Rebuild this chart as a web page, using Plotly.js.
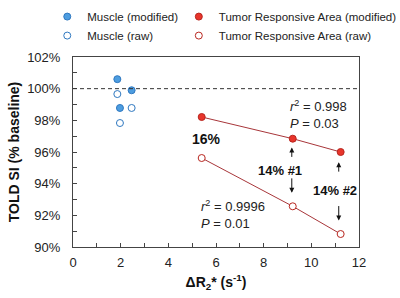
<!DOCTYPE html>
<html>
<head>
<meta charset="utf-8">
<script src="https://cdn.plot.ly/plotly-3.0.1.min.js"></script>
<style>html,body{margin:0;padding:0;background:#fff;}#chart{width:400px;height:298px;}</style>
</head>
<body>
<div id="chart"></div>
<script>
// Data
var muscleX = [1.86, 2.46, 1.97];
var muscleModified = [100.6, 99.9, 98.78];
var muscleRaw = [99.66, 98.78, 97.83];

var tumorX = [5.40, 9.22, 11.23];
var tumorModified = [98.21, 96.84, 96.0];
var tumorRaw = [95.62, 92.57, 90.82];

var seriesNames = ['Muscle (modified)', 'Muscle (raw)', 'Tumor Responsive Area (modified)', 'Tumor Responsive Area (raw)'];
var yTickVals = [90, 92, 94, 96, 98, 100, 102];
var yTickText = ['90%', '92%', '94%', '96%', '98%', '100%', '102%'];
var xTickVals = [0, 2, 4, 6, 8, 10, 12];

var FONT = 'Liberation Sans, Arial, sans-serif';
var BLUE_FILL = '#4d9de0', BLUE_EDGE = '#2f78c0';
var RED_FILL = '#e8352b', RED_EDGE = '#b8261f', LINE_RED = '#a8363a';

var traces = [
  {x: tumorX, y: tumorModified, mode: 'lines', showlegend: false, hoverinfo: 'skip',
   line: {color: LINE_RED, width: 1}},
  {x: tumorX, y: tumorRaw, mode: 'lines', showlegend: false, hoverinfo: 'skip',
   line: {color: LINE_RED, width: 1}},
  {x: muscleX, y: muscleModified, name: seriesNames[0], mode: 'markers', legend: 'legend',
   marker: {size: 7, color: BLUE_FILL, line: {color: BLUE_EDGE, width: 1}}},
  {x: muscleX, y: muscleRaw, name: seriesNames[1], mode: 'markers', legend: 'legend',
   marker: {size: 7, color: '#ffffff', line: {color: BLUE_EDGE, width: 1}}},
  {x: tumorX, y: tumorModified, name: seriesNames[2], mode: 'markers', legend: 'legend2',
   marker: {size: 7, color: RED_FILL, line: {color: RED_EDGE, width: 1}}},
  {x: tumorX, y: tumorRaw, name: seriesNames[3], mode: 'markers', legend: 'legend2',
   marker: {size: 7, color: '#ffffff', line: {color: RED_EDGE, width: 1}}}
];

var annFont = {family: FONT, size: 13, color: '#222'};
var boldFont = {family: FONT, size: 13, color: '#111', weight: 'bold'};

var layout = {
  width: 400, height: 298,
  margin: {l: 73, r: 41, t: 57, b: 51, autoexpand: false},
  paper_bgcolor: '#ffffff', plot_bgcolor: '#ffffff',
  font: {family: FONT, size: 13, color: '#222'},
  showlegend: true,
  legend: {x: -0.09, y: 1.289, xanchor: 'left', yanchor: 'top',
           bgcolor: 'rgba(0,0,0,0)', font: {family: FONT, size: 11.5, color: '#222'},
           tracegroupgap: 0},
  legend2: {x: 0.37, y: 1.289, xanchor: 'left', yanchor: 'top',
           bgcolor: 'rgba(0,0,0,0)', font: {family: FONT, size: 11.5, color: '#222'},
           tracegroupgap: 0},
  xaxis: {
    range: [0, 12], tickmode: 'array', tickvals: xTickVals, ticks: 'inside', ticklen: 4, tickcolor: '#444',
    minor: {tickmode: 'linear', tick0: 0, dtick: 1, ticks: 'inside', ticklen: 4, tickcolor: '#444'},
    showline: true, mirror: true, linecolor: '#444', linewidth: 1,
    showgrid: false, zeroline: false, ticklabelstandoff: 3,
    tickfont: {family: FONT, size: 13, color: '#222'},
    title: {text: 'ΔR<sub>2</sub>* (s<sup>-1</sup>)', font: {family: FONT, size: 14, color: '#111', weight: 'bold'}, standoff: 8}
  },
  yaxis: {
    range: [90, 102], tickmode: 'array', tickvals: yTickVals, ticktext: yTickText, ticks: 'inside', ticklen: 4, tickcolor: '#444',
    minor: {tickmode: 'linear', tick0: 90, dtick: 1, ticks: 'inside', ticklen: 4, tickcolor: '#444'},
    showline: true, mirror: true, linecolor: '#444', linewidth: 1,
    showgrid: false, zeroline: false, ticklabelstandoff: 9,
    tickfont: {family: FONT, size: 13, color: '#222'},
    title: {text: 'TOLD SI (% baseline)', font: {family: FONT, size: 14, color: '#111', weight: 'bold'}, standoff: 4}
  },
  shapes: [
    {type: 'line', xref: 'paper', yref: 'y', x0: 0, x1: 1, y0: 100, y1: 100,
     line: {color: '#333', width: 1, dash: '4px,3px'}}
  ],
  annotations: [
    {x: 5.6, y: 96.84, text: '16%', showarrow: false, font: {family: FONT, size: 14, color: '#111', weight: 'bold'}},
    {x: 9.0, y: 98.39, text: '<i>r</i><sup>2</sup> = 0.998<br><i>P</i> = 0.03', showarrow: false,
     xanchor: 'left', align: 'left', font: annFont},
    {x: 5.3, y: 92.08, text: '<i>r</i><sup>2</sup> = 0.9996<br><i>P</i> = 0.01', showarrow: false,
     xanchor: 'left', align: 'left', font: annFont},
    {x: 8.69, y: 94.84, text: '14% #1', showarrow: false, font: boldFont},
    {x: 10.98, y: 93.6, text: '14% #2', showarrow: false, font: boldFont},
    {x: 9.18, y: 96.29, ax: 0, ay: 11, text: '', showarrow: true, arrowhead: 2, arrowsize: 1, arrowwidth: 1, arrowcolor: '#111'},
    {x: 9.18, y: 93.42, ax: 0, ay: -16, text: '', showarrow: true, arrowhead: 2, arrowsize: 1, arrowwidth: 1, arrowcolor: '#111'},
    {x: 11.15, y: 95.36, ax: 0, ay: 11, text: '', showarrow: true, arrowhead: 2, arrowsize: 1, arrowwidth: 1, arrowcolor: '#111'},
    {x: 11.15, y: 91.67, ax: 0, ay: -16, text: '', showarrow: true, arrowhead: 2, arrowsize: 1, arrowwidth: 1, arrowcolor: '#111'}
  ]
};

Plotly.newPlot('chart', traces, layout, {staticPlot: true, displayModeBar: false});
</script>
</body>
</html>
